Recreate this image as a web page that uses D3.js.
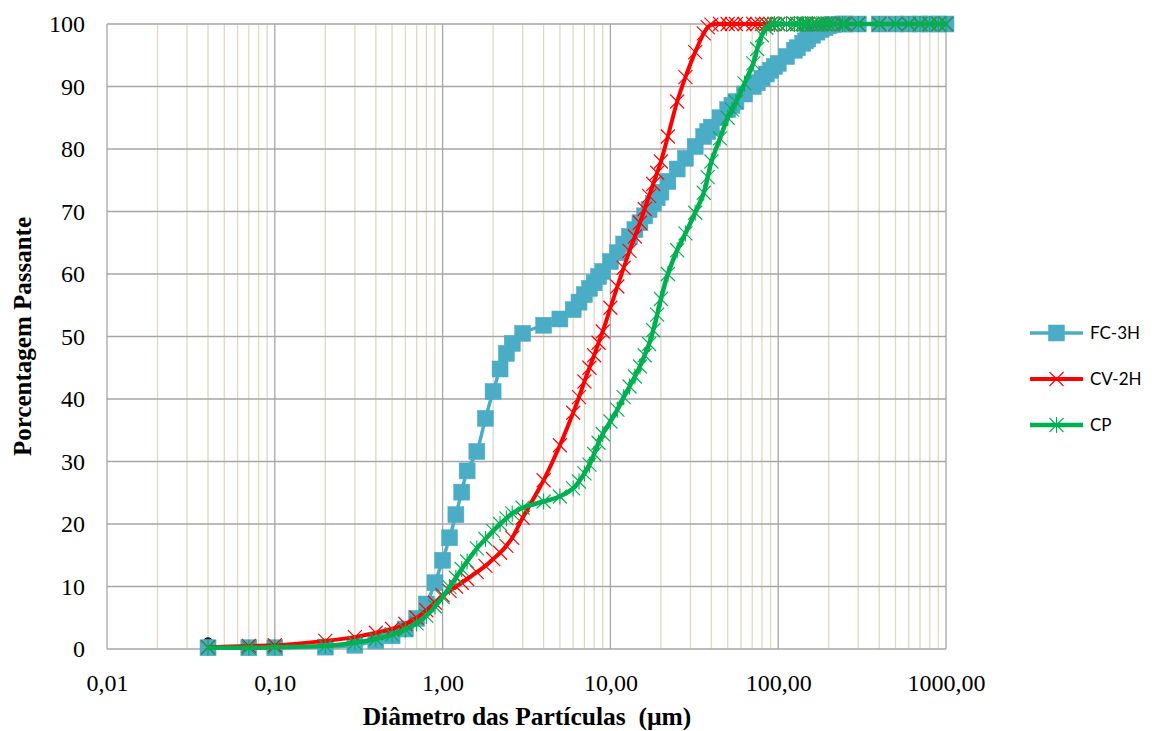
<!DOCTYPE html>
<html>
<head>
<meta charset="utf-8">
<script src="https://cdn.jsdelivr.net/npm/d3@7"></script>
<style>
  html, body { margin: 0; padding: 0; background: #ffffff; }
  svg { display: block; }
</style>
</head>
<body>
<svg id="chart" width="1157" height="731"></svg>
<script>
// Particle size classes (µm)
const sizes = [0.04, 0.07, 0.1, 0.2, 0.3, 0.4, 0.5, 0.6, 0.7, 0.8, 0.9, 1.0, 1.1, 1.2, 1.3, 1.4, 1.6, 1.8, 2.0, 2.2, 2.4, 2.6, 3.0, 4.0, 5.0, 6.0, 6.5, 7.0, 7.5, 8.0, 8.5, 9.0, 10, 11, 12, 13, 14, 15, 16, 17, 18, 19, 20, 22, 25, 28, 32, 36, 38, 40, 45, 50, 53, 56, 63, 71, 75, 80, 85, 90, 95, 100, 112, 125, 130, 140, 145, 150, 160, 170, 180, 190, 200, 212, 242, 250, 300, 400, 500, 600, 700, 800, 900, 1000];

// Cumulative passing (%)
const fc3h = [0.2, 0.2, 0.2, 0.3, 0.6, 1.3, 2.1, 3.2, 4.9, 7.2, 10.6, 14.2, 17.8, 21.5, 25.1, 28.5, 31.6, 36.9, 41.2, 44.8, 47.3, 48.9, 50.5, 51.8, 52.8, 54.3, 55.5, 56.7, 57.7, 58.6, 59.6, 60.4, 62.0, 63.4, 64.8, 66.0, 67.1, 68.2, 69.3, 70.3, 71.3, 72.2, 73.1, 74.8, 76.8, 78.5, 80.4, 82.0, 82.8, 83.5, 85.0, 86.3, 87.0, 87.6, 88.8, 90.0, 90.6, 91.3, 92.0, 92.6, 93.2, 93.7, 94.8, 95.8, 96.2, 96.9, 97.3, 97.6, 98.2, 98.7, 99.1, 99.4, 99.7, 99.9, 100, 100, 100, 100, 100, 100, 100, 100, 100, 100];
const cv2h = [0.3, 0.5, 0.6, 1.3, 1.9, 2.6, 3.2, 4.0, 5.0, 6.2, 7.4, 8.6, 9.3, 10.0, 10.6, 11.2, 12.3, 13.3, 14.4, 15.4, 16.5, 17.8, 21.0, 27.0, 32.6, 37.8, 40.3, 42.8, 45.0, 47.0, 49.0, 50.8, 54.6, 58.0, 61.0, 63.7, 66.0, 68.2, 70.4, 72.5, 74.4, 76.2, 78.0, 82.0, 87.6, 91.5, 95.5, 98.5, 99.5, 99.9, 100, 100, 100, 100, 100, 100, 100, 100, 100, 100, 100, 100, 100, 100, 100, 100, 100, 100, 100, 100, 100, 100, 100, 100, 100, 100, 100, 100, 100, 100, 100, 100, 100, 100];
const cp = [0.2, 0.2, 0.3, 0.5, 1.0, 1.6, 2.3, 3.1, 4.1, 5.3, 6.8, 8.3, 9.9, 11.4, 12.8, 14.0, 16.1, 17.6, 18.9, 20.0, 20.9, 21.7, 22.6, 23.6, 24.4, 25.7, 26.8, 28.1, 29.5, 31.2, 33.0, 34.4, 36.4, 38.3, 40.3, 42.0, 43.6, 45.2, 47.0, 48.8, 51.0, 53.5, 56.0, 60.0, 63.8, 66.5, 69.8, 73.0, 75.5, 78.0, 81.7, 85.0, 86.3, 87.5, 90.5, 93.7, 96.0, 98.2, 99.4, 99.9, 100, 100, 100, 100, 100, 100, 100, 100, 100, 100, 100, 100, 100, 100, 100, 100, 100, 100, 100, 100, 100, 100, 100, 100];

// Lone reference point at the smallest class
const refPoint = [{ d: 0.04, v: 1.0 }];

const seriesNames = ["FC-3H", "CV-2H", "CP"];
const xTickValues = [0.01, 0.1, 1, 10, 100, 1000];
const xTickLabels = ["0,01", "0,10", "1,00", "10,00", "100,00", "1000,00"];
const yTickValues = [0, 10, 20, 30, 40, 50, 60, 70, 80, 90, 100];

const svg = d3.select("#chart");
const margin = { left: 107, right: 1157 - 946, top: 24, bottom: 731 - 649 };
const W = 1157, H = 731;
const serif = "'Liberation Serif', 'Times New Roman', serif";

const x = d3.scaleLog().domain([0.01, 1000]).range([margin.left, W - margin.right]);
const y = d3.scaleLinear().domain([0, 100]).range([H - margin.bottom, margin.top]);

// Minor vertical gridlines (2..9 within each decade)
const minor = [];
for (let e = -2; e < 3; e++) {
  for (let k = 2; k <= 9; k++) minor.push(k * Math.pow(10, e));
}
svg.append("g").selectAll("line").data(minor).join("line")
  .attr("x1", d => x(d)).attr("x2", d => x(d))
  .attr("y1", y(0)).attr("y2", y(100))
  .attr("stroke", "#DDD9C3").attr("stroke-width", 1.3);

// Major gridlines
svg.append("g").selectAll("line").data(xTickValues).join("line")
  .attr("x1", d => x(d)).attr("x2", d => x(d))
  .attr("y1", y(0)).attr("y2", y(100))
  .attr("stroke", "#A6A6A6").attr("stroke-width", 1.3);
svg.append("g").selectAll("line").data(yTickValues).join("line")
  .attr("x1", x(0.01)).attr("x2", x(1000))
  .attr("y1", d => y(d)).attr("y2", d => y(d))
  .attr("stroke", "#A6A6A6").attr("stroke-width", 1.3);

// Axes (labels only; gridlines drawn above)
const xAxis = d3.axisBottom(x).tickValues(xTickValues)
  .tickFormat((d, i) => xTickLabels[i]).tickSize(0).tickPadding(25);
svg.append("g").attr("transform", `translate(0,${y(0)})`).call(xAxis)
  .call(g => g.select(".domain").remove())
  .selectAll("text").attr("font-family", serif)
  .attr("font-size", 24).attr("fill", "#000");

const yAxis = d3.axisLeft(y).tickValues(yTickValues).tickSize(0).tickPadding(22);
svg.append("g").attr("transform", `translate(${x(0.01)},0)`).call(yAxis)
  .call(g => g.select(".domain").remove())
  .selectAll("text").attr("font-family", serif)
  .attr("font-size", 24).attr("fill", "#000");

// Axis titles
svg.append("text")
  .attr("x", 527).attr("y", 725)
  .attr("text-anchor", "middle")
  .attr("font-family", serif)
  .attr("font-size", 25.5).attr("font-weight", "bold")
  .style("white-space", "pre")
  .text("Diâmetro das Partículas  (µm)");

svg.append("text")
  .attr("transform", `translate(31,${(y(0) + y(100)) / 2}) rotate(-90)`)
  .attr("text-anchor", "middle")
  .attr("font-family", serif)
  .attr("font-size", 25).attr("font-weight", "bold")
  .text("Porcentagem Passante");

// Reference point
svg.append("g").selectAll("circle").data(refPoint).join("circle")
  .attr("cx", d => x(d.d)).attr("cy", d => y(d.v)).attr("r", 5)
  .attr("fill", "#3a3a3a").attr("stroke", "#000").attr("stroke-width", 1);

const line = d3.line()
  .x(d => x(d.d)).y(d => y(d.v))
  .curve(d3.curveCatmullRom.alpha(0.5));

const toPts = vals => sizes.map((d, i) => ({ d, v: vals[i] }));

const series = [
  { name: seriesNames[0], vals: fc3h, color: "#4BACC6", lw: 3.5, marker: "square" },
  { name: seriesNames[1], vals: cv2h, color: "#FF0000", lw: 4, marker: "x" },
  { name: seriesNames[2], vals: cp, color: "#00B050", lw: 4.5, marker: "star" }
];

function drawMarker(g, type, color, cx, cy, s) {
  if (type === "square") {
    g.append("rect").attr("x", cx - s / 2).attr("y", cy - s / 2)
      .attr("width", s).attr("height", s).attr("fill", color).attr("stroke", color).attr("stroke-width", 0.5);
  } else {
    const h = s / 2;
    let p = `M${cx - h},${cy - h}L${cx + h},${cy + h}M${cx - h},${cy + h}L${cx + h},${cy - h}`;
    if (type === "star") p += `M${cx},${cy - h - 1}L${cx},${cy + h + 1}`;
    g.append("path").attr("d", p).attr("stroke", color).attr("stroke-width", 1.1).attr("fill", "none");
  }
}

series.forEach(s => {
  const pts = toPts(s.vals);
  const g = svg.append("g");
  g.append("path").datum(pts).attr("d", line)
    .attr("fill", "none").attr("stroke", s.color).attr("stroke-width", s.lw)
    .attr("stroke-linejoin", "round");
  const mg = g.append("g");
  const size = s.marker === "square" ? 16 : 14;
  pts.forEach(p => drawMarker(mg, s.marker, s.color, x(p.d), y(p.v), size));
});

// Legend
const legend = svg.append("g");
series.forEach((s, i) => {
  const ly = 333 + i * 46;
  legend.append("line").attr("x1", 1030).attr("x2", 1083).attr("y1", ly).attr("y2", ly)
    .attr("stroke", s.color).attr("stroke-width", s.lw);
  drawMarker(legend, s.marker, s.color, 1056.5, ly, s.marker === "square" ? 16 : 14);
  legend.append("text").attr("x", 1090).attr("y", ly + 6)
    .attr("font-family", "Lato, 'Open Sans', sans-serif").attr("font-size", 17)
    .attr("fill", "#000").text(s.name);
});
</script>
</body>
</html>
